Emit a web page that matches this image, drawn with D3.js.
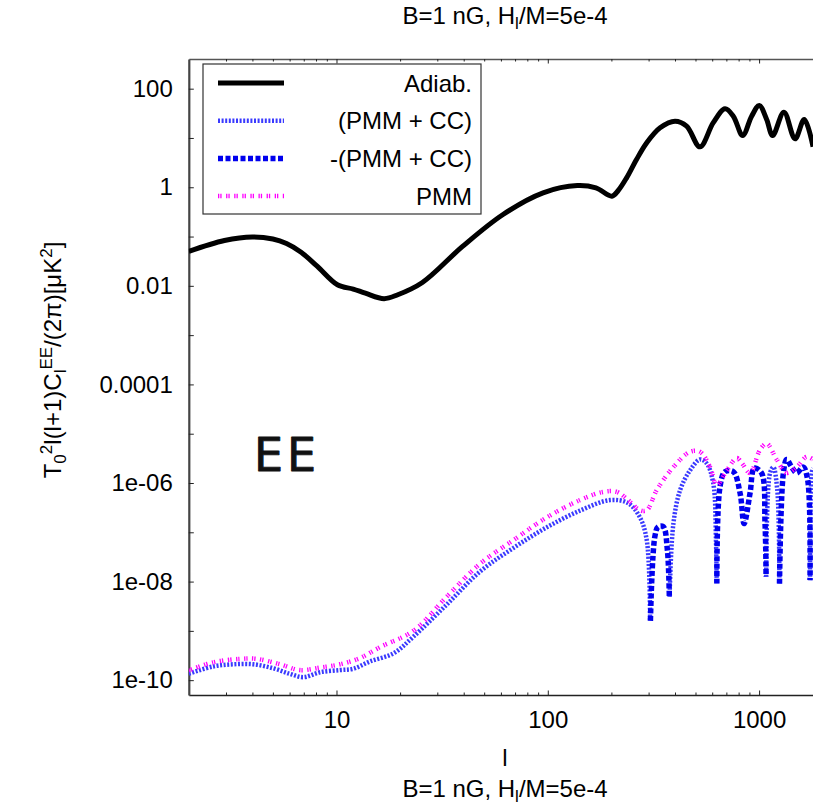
<!doctype html>
<html>
<head>
<meta charset="utf-8">
<script src="https://d3js.org/d3.v7.min.js"></script>
<style>
  body { margin: 0; background: #fff; }
  text { font-family: "Liberation Sans", Arial, Helvetica, sans-serif; }
</style>
</head>
<body>
<div id="graphic"></div>
<script>

// ---- data ----
var adiabL = [2, 2.95, 4, 5, 5.8, 6.8, 8.1, 10.1, 12, 13.7, 16.8, 19.5, 25.5, 39.5, 61.4, 95, 138, 169, 201, 215, 236, 263, 294, 340, 400, 454, 525, 607, 690, 755, 836, 922, 1002, 1086, 1159, 1311, 1479, 1636, 1800];
var adiabV = [0.05, 0.083, 0.098, 0.089, 0.072, 0.048, 0.025, 0.0105, 0.0086, 0.0071, 0.0055, 0.0066, 0.0117, 0.063, 0.28, 0.77, 1.08, 0.97, 0.66, 0.85, 1.55, 3.66, 8.0, 16.1, 21.9, 17.4, 6.6, 20.4, 39.2, 27.7, 11.2, 27.7, 45.7, 23.8, 11.2, 33.4, 9.6, 23.8, 6.6];

var pmmL = [2, 2.61, 3.49, 4.19, 5.41, 6.72, 8.36, 10.4, 12.9, 16.1, 23.1, 33.2, 47.8, 68.7, 98.8, 142, 183, 212, 240, 273, 294, 328, 393, 471, 525, 586, 630, 703, 784, 830, 906, 1010, 1086, 1211, 1351, 1507, 1680, 1800];
var pmmV = [1.58e-10, 2.3e-10, 2.7e-10, 2.7e-10, 2.1e-10, 1.6e-10, 1.8e-10, 2.1e-10, 2.8e-10, 4.7e-10, 1.0e-9, 4.9e-9, 2.3e-8, 6.9e-8, 2.0e-7, 4.5e-7, 6.6e-7, 6.6e-7, 4.5e-7, 2.8e-7, 2.8e-7, 7.2e-7, 2.1e-6, 4.3e-6, 4.3e-6, 2.1e-6, 9.1e-7, 1.8e-6, 3.2e-6, 2.5e-6, 1.6e-6, 4.7e-6, 6.3e-6, 3.0e-6, 1.6e-6, 2.1e-6, 3.4e-6, 3.0e-6];

// PMM + CC, signed (negative part is drawn as -(PMM + CC))
var pmmccL = [2, 2.61, 3.25, 4.04, 5.02, 6.0, 6.97, 8.36, 10.4, 12, 14.4, 18.6, 23.1, 33.2, 47.8, 68.7, 98.8, 142, 197, 240, 273, 294, 305,
  306, 321, 333, 352, 368, 376,
  377, 393, 423, 471, 525, 565, 607, 625, 630,
  631, 653, 690, 755, 813, 849, 906, 950, 1027, 1067, 1079,
  1080, 1127, 1168, 1219, 1248,
  1249, 1303, 1351, 1426, 1507, 1617, 1698, 1742,
  1743, 1774, 1800];
var pmmccV = [1.35e-10, 1.9e-10, 2.1e-10, 2.1e-10, 1.74e-10, 1.35e-10, 1.15e-10, 1.45e-10, 1.6e-10, 1.7e-10, 2.4e-10, 3.5e-10, 7.6e-10, 3.4e-9, 1.6e-8, 4.8e-8, 1.26e-7, 2.75e-7, 4.5e-7, 3.9e-7, 2.0e-7, 6.9e-8, 1.6e-9,
  -1.6e-9, -8.1e-8, -1.3e-7, -1.3e-7, -4.4e-8, -4.9e-9,
  4.9e-9, 1.5e-7, 7.2e-7, 1.8e-6, 3.0e-6, 2.5e-6, 9.8e-7, 6.9e-8, 9.1e-9,
  -9.1e-9, -8.3e-7, -1.7e-6, -1.7e-6, -6.2e-7, -1.5e-7, -6.2e-7, -2.0e-6, -1.6e-6, -1.5e-7, -1.26e-8,
  1.26e-8, 1.6e-6, 2.1e-6, 7.2e-7, 9.1e-9,
  -9.1e-9, -1.6e-6, -3.0e-6, -2.1e-6, -1.6e-6, -2.1e-6, -1.15e-6, -1.07e-8,
  1.07e-8, 1.6e-6, 2e-6];

var xTickValues = [10, 100, 1000];
var xTickLabels = ["10", "100", "1000"];
var yTickValues = [1e-10, 1e-8, 1e-6, 1e-4, 1e-2, 1, 100];
var yTickLabels = ["1e-10", "1e-08", "1e-06", "0.0001", "0.01", "1", "100"];
var legendLabels = ["Adiab.", "(PMM + CC)", "-(PMM + CC)", "PMM"];

// ---- layout ----
var W = 813, H = 808;
var x0 = 188.8, x1 = 822.7, yTop = 59, yBot = 695;
var fs = 24;

var svg = d3.select("#graphic").append("svg")
  .attr("width", W)
  .attr("height", H)
  .style("display", "block");

var x = d3.scaleLog().domain([2, 2000]).range([x0, x1]);
var y = d3.scaleLog().domain([5e-11, 400]).range([yBot, yTop]);

svg.append("clipPath").attr("id", "plotclip")
  .append("rect").attr("x", x0).attr("y", yTop).attr("width", x1 - x0).attr("height", yBot - yTop);

// minor x ticks
var minorX = [];
[1, 10, 100, 1000].forEach(function(d) {
  for (var m = 2; m <= 9; m++) if (d * m > 2 && d * m < 2000) minorX.push(d * m);
});
var yDecades = d3.range(-10, 3).map(function(e) { return Math.pow(10, e); });

function styleAxis(g) {
  g.selectAll("text").style("font-size", fs + "px").attr("fill", "#000")
    .style("font-family", '"Liberation Sans", Arial, sans-serif');
  g.selectAll("line").attr("stroke", "#222").attr("stroke-width", 1);
  g.select(".domain").attr("stroke", "#222").attr("stroke-width", 1.6);
}

// bottom axis
svg.append("g")
  .attr("transform", "translate(0," + yBot + ")")
  .call(d3.axisBottom(x).tickValues(minorX).tickFormat("").tickSizeInner(-2.5).tickSizeOuter(0))
  .call(styleAxis);
svg.append("g")
  .attr("transform", "translate(0," + yBot + ")")
  .call(d3.axisBottom(x).tickValues(xTickValues).tickFormat(function(d, i) { return xTickLabels[i]; })
    .tickSizeInner(-4.5).tickSizeOuter(0).tickPadding(16))
  .call(styleAxis)
  .call(function(g) { g.select(".domain").remove(); });

// top mirror
svg.append("g")
  .attr("transform", "translate(0," + yTop + ")")
  .call(d3.axisTop(x).tickValues(minorX).tickFormat("").tickSizeInner(-2.5).tickSizeOuter(0))
  .call(styleAxis)
  .call(function(g) { g.select(".domain").attr("stroke", "#555"); });
svg.append("g")
  .attr("transform", "translate(0," + yTop + ")")
  .call(d3.axisTop(x).tickValues(xTickValues).tickFormat("").tickSizeInner(-4.5).tickSizeOuter(0))
  .call(styleAxis)
  .call(function(g) { g.select(".domain").remove(); });

// left axis
svg.append("g")
  .attr("transform", "translate(" + x0 + ",0)")
  .call(d3.axisLeft(y).tickValues(yDecades)
    .tickFormat(function(d) {
      var i = yTickValues.findIndex(function(v) { return Math.abs(Math.log10(v) - Math.log10(d)) < 1e-6; });
      return i >= 0 ? yTickLabels[i] : "";
    })
    .tickSizeInner(-5).tickSizeOuter(0).tickPadding(16))
  .call(styleAxis)
  .call(function(g) { g.select(".domain").attr("stroke", "#444").attr("stroke-width", 2.2); });

// ---- curves ----
function pts(L, V) { return L.map(function(l, i) { return {l: l, v: V[i]}; }); }

var plot = svg.append("g").attr("clip-path", "url(#plotclip)");

var line = d3.line()
  .x(function(d) { return x(d.l); })
  .y(function(d) { return y(Math.abs(d.v)); })
  .curve(d3.curveCatmullRom);

var styles = [
  {stroke: "#000", width: 5, dash: null},
  {stroke: "#3a3aff", width: 4.5, dash: "2,1.6"},
  {stroke: "#0000ee", width: 5.5, dash: "5,2.5"},
  {stroke: "#ff00ff", width: 4.5, dash: "1.3,1,1.3,4.5"}
];

function drawLine(data, st, def) {
  plot.append("path")
    .datum(data)
    .attr("fill", "none")
    .attr("stroke", st.stroke)
    .attr("stroke-width", st.width)
    .attr("stroke-dasharray", st.dash)
    .attr("stroke-linejoin", "round")
    .attr("d", line.defined(def || function() { return true; }));
}

var pmmcc = pts(pmmccL, pmmccV);
drawLine(pts(adiabL, adiabV), styles[0]);
drawLine(pmmcc, styles[1], function(d) { return d.v > 0; });
drawLine(pmmcc, styles[2], function(d) { return d.v < 0; });
drawLine(pts(pmmL, pmmV), styles[3]);

// ---- legend ----
var leg = svg.append("g");
leg.append("rect")
  .attr("x", 203).attr("y", 64).attr("width", 278).attr("height", 150)
  .attr("fill", "#fff").attr("stroke", "#333").attr("stroke-width", 1.2);
legendLabels.forEach(function(lab, i) {
  var ly = 83 + i * 37.7;
  leg.append("line")
    .attr("x1", 218).attr("x2", 284).attr("y1", ly).attr("y2", ly)
    .attr("stroke", styles[i].stroke).attr("stroke-width", styles[i].width)
    .attr("stroke-dasharray", styles[i].dash);
  leg.append("text")
    .attr("x", 472).attr("y", ly + 8.5)
    .attr("text-anchor", "end")
    .style("font-size", fs + "px")
    .text(lab);
});

// ---- texts ----
function richText(t, runs) {
  var cur = 0;
  runs.forEach(function(r) {
    var want = r[1] === 1 ? -9.5 : (r[1] === -1 ? 5 : 0);
    t.append("tspan")
      .attr("dy", want - cur)
      .style("font-size", r[1] === 0 ? fs + "px" : "17px")
      .text(r[0]);
    cur = want;
  });
  return t;
}

var titleRuns = [["B=1 nG, H", 0], ["l", -1], ["/M=5e-4", 0]];
richText(svg.append("text").attr("x", 505).attr("y", 24).attr("text-anchor", "middle"), titleRuns);
richText(svg.append("text").attr("x", 505).attr("y", 797).attr("text-anchor", "middle"), titleRuns);

svg.append("text")
  .attr("x", 505).attr("y", 766)
  .attr("text-anchor", "middle")
  .style("font-size", fs + "px")
  .text("l");

richText(svg.append("text")
  .attr("transform", "translate(61,360)rotate(-90)")
  .attr("text-anchor", "middle"),
  [["T", 0], ["0", -1], ["2", 1], ["l(l+1)C", 0], ["l", -1], ["EE", 1], ["/(2\u03c0)[\u03bcK", 0], ["2", 1], ["]", 0]]);

svg.append("text")
  .attr("x", 254).attr("y", 471)
  .style("font-family", '"DejaVu Sans", sans-serif')
  .style("font-size", "46px")
  .attr("fill", "#111")
  .attr("stroke", "#111")
  .attr("stroke-width", 0.9)
  .attr("stroke-linejoin", "round")
  .attr("letter-spacing", "4")
  .text("EE");

</script>
</body>
</html>
